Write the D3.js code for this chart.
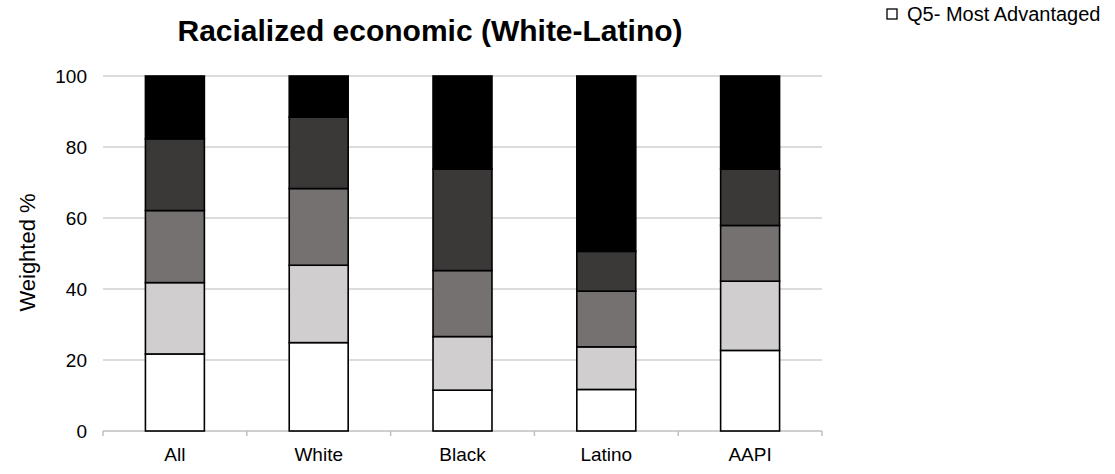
<!DOCTYPE html>
<html>
<head>
<meta charset="utf-8">
<script src="https://cdn.jsdelivr.net/npm/d3@7"></script>
<style>
  html, body { margin: 0; padding: 0; background: #fff; }
  svg text { font-family: "Liberation Sans", Arial, sans-serif; fill: #000; }
</style>
</head>
<body>
<svg id="chart" width="1115" height="474"></svg>
<script>
// Groups along the x axis
const groups = ["All", "White", "Black", "Latino", "AAPI"];

// Quintile series, stacked bottom to top
const seriesNames = ["Q5- Most Advantaged", "Q4", "Q3", "Q2", "Q1- Most Disadvantaged"];
const q5 = [21.7, 24.9, 11.5, 11.7, 22.7];
const q4 = [20.1, 21.8, 15.1, 12.0, 19.5];
const q3 = [20.3, 21.6, 18.6, 15.7, 15.7];
const q2 = [20.2, 20.1, 28.6, 11.2, 15.9];
const q1 = [17.7, 11.6, 26.2, 49.4, 26.2];
const seriesValues = [q5, q4, q3, q2, q1];

const yTicks = [0, 20, 40, 60, 80, 100];
const fills = ["#ffffff", "#d0cece", "#767171", "#3b3838", "#000000"];

const svg = d3.select("#chart");
const margin = { left: 103, right: 1115 - 822, top: 76, bottom: 474 - 431 };
const width = 1115 - margin.left - margin.right;
const height = 474 - margin.top - margin.bottom;

// Rows for the stack generator
const rows = groups.map((g, i) => {
  const r = { group: g };
  seriesNames.forEach((s, k) => { r[s] = seriesValues[k][i]; });
  return r;
});
const stacked = d3.stack().keys(seriesNames)(rows);

const x = d3.scaleBand().domain(groups).range([0, width])
  .paddingInner(0.59).paddingOuter(0.295);
const y = d3.scaleLinear().domain([0, 100]).range([height, 0]);

const g = svg.append("g").attr("transform", `translate(${margin.left},${margin.top})`);

// Horizontal gridlines
g.append("g")
  .selectAll("line")
  .data(yTicks.filter(t => t > 0))
  .join("line")
  .attr("x1", 0).attr("x2", width)
  .attr("y1", d => y(d)).attr("y2", d => y(d))
  .attr("stroke", "#d0d0d0").attr("stroke-width", 1.5);

// Y axis labels
const yAxis = g.append("g")
  .call(d3.axisLeft(y).tickValues(yTicks).tickSize(0).tickPadding(16));
yAxis.select(".domain").remove();
yAxis.selectAll("text").style("font-size", "19px").attr("fill", "#000");

// X axis: baseline with boundary ticks between groups
const step = x.step();
const xAxisG = g.append("g").attr("transform", `translate(0,${height})`);
xAxisG.append("line")
  .attr("x1", 0).attr("x2", width).attr("y1", 0).attr("y2", 0)
  .attr("stroke", "#bfbfbf").attr("stroke-width", 1.5);
xAxisG.selectAll("line.tick")
  .data(d3.range(groups.length + 1))
  .join("line")
  .attr("class", "tick")
  .attr("x1", i => i * step).attr("x2", i => i * step)
  .attr("y1", 0).attr("y2", 5)
  .attr("stroke", "#bfbfbf").attr("stroke-width", 1.5);
xAxisG.selectAll("text")
  .data(groups)
  .join("text")
  .attr("x", d => x(d) + x.bandwidth() / 2)
  .attr("y", 30)
  .attr("text-anchor", "middle")
  .style("font-size", "19px")
  .text(d => d);

// Stacked bars
g.append("g")
  .selectAll("g")
  .data(stacked)
  .join("g")
  .attr("fill", (d, i) => fills[i])
  .selectAll("rect")
  .data(d => d)
  .join("rect")
  .attr("x", d => x(d.data.group))
  .attr("y", d => y(d[1]))
  .attr("width", x.bandwidth())
  .attr("height", d => y(d[0]) - y(d[1]))
  .attr("stroke", "#000")
  .attr("stroke-width", 1.6);

// Y axis title
svg.append("text")
  .attr("transform", `translate(35,${margin.top + height / 2 - 1}) rotate(-90)`)
  .attr("text-anchor", "middle")
  .style("font-size", "22px")
  .text("Weighted %");

// Chart title
svg.append("text")
  .attr("x", 430).attr("y", 41)
  .attr("text-anchor", "middle")
  .style("font-size", "30px")
  .style("font-weight", "bold")
  .text("Racialized economic (White-Latino)");

// Legend entry
const legend = svg.append("g").attr("transform", "translate(887,9)");
legend.append("rect")
  .attr("width", 10).attr("height", 10)
  .attr("fill", fills[0]).attr("stroke", "#000").attr("stroke-width", 1.3);
legend.append("text")
  .attr("x", 20).attr("y", 12)
  .style("font-size", "20px")
  .text(seriesNames[0]);
</script>
</body>
</html>
